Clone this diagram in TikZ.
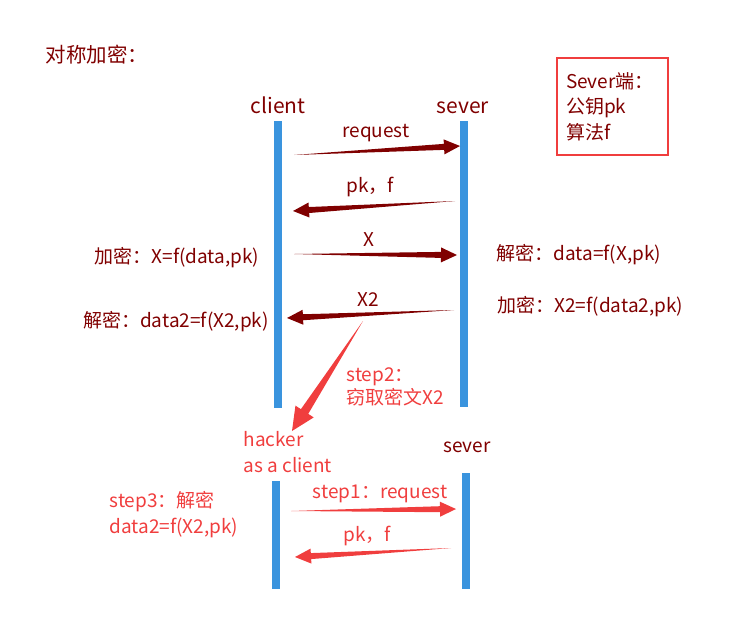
\documentclass[tikz,border=0pt]{standalone}
\usepackage{fontspec}
\setmainfont{Noto Sans CJK SC}
\usetikzlibrary{calc}

\definecolor{darkred}{RGB}{128,0,0}
\definecolor{brightred}{RGB}{240,62,62}
\definecolor{lineblue}{RGB}{58,148,222}

\tikzset{
  lifeline/.style={line width=7.5pt, lineblue},
  actor/.style={font=\fontsize{21}{24}\selectfont, text=darkred},
  msg/.style={font=\fontsize{19}{22}\selectfont, text=darkred},
  note/.style={font=\fontsize{19}{26}\selectfont, align=left, anchor=west},
}

% tapered arrow: [size]{colour}{tail}{tip}
\newcommand{\taper}[4][1]{%
  \coordinate (hb) at ($(#4)!#1*16pt!(#3)$);
  \fill[#2] (#3) -- ($(hb)!#1*3pt!90:(#4)$) -- ($(hb)!#1*7.5pt!90:(#4)$) -- (#4)
    -- ($(hb)!#1*7.5pt!-90:(#4)$) -- ($(hb)!#1*3pt!-90:(#4)$) -- cycle;}

\begin{document}
\begin{tikzpicture}[x=1pt,y=-1pt]
	\useasboundingbox (0,0) rectangle (751,619);
	\node[note, text=darkred, font=\fontsize{20.5}{24}\selectfont] (title) at (42,55) {对称加密：};
	\node[draw=brightred, line width=2pt, text=darkred, font=\fontsize{19}{25.5}\selectfont,
		minimum width=111pt, minimum height=97pt, text width=93pt, align=left] (keybox) at (612.5,106.5)
		{Sever端：\\公钥pk\\算法f};

	% upper part
	\node[actor] (client) at (278,105) {client};
	\node[actor] (sever) at (463,108) {sever};
	\coordinate (c-top) at (278,121); \coordinate (c-bot) at (278,408);
	\coordinate (s-top) at (464,121); \coordinate (s-bot) at (464,407);
	\draw[lifeline] (c-top) -- (c-bot);
	\draw[lifeline] (s-top) -- (s-bot);

	\coordinate (req-a) at (294,155); \coordinate (req-b) at (460,146);
	\coordinate (pk-a) at (455,201);  \coordinate (pk-b) at (293,211);
	\coordinate (x-a) at (294,254);   \coordinate (x-b) at (457,255);
	\coordinate (x2-a) at (454,310);  \coordinate (x2-b) at (287,318);
	\taper{darkred}{req-a}{req-b}
	\taper{darkred}{pk-a}{pk-b}
	\taper{darkred}{x-a}{x-b}
	\taper{darkred}{x2-a}{x2-b}
	\node[msg] (req) at (376,133) {request};
	\node[msg] (pk) at (370,187) {pk，f};
	\node[msg] (x) at (369,240) {X};
	\node[msg] (x2) at (368,300) {X2};

	\node[msg] (enc) at (177,258) {加密：X=f(data,pk)};
	\node[msg] (dec2) at (176,322) {解密：data2=f(X2,pk)};
	\node[msg, anchor=west] (dec) at (493,255) {解密：data=f(X,pk)};
	\node[msg, anchor=west] (enc2) at (494,307) {加密：X2=f(data2,pk)};

	% hacker steals X2
	\coordinate (steal-a) at (363,321); \coordinate (steal-b) at (292,431);
	\taper[1.45]{brightred}{steal-a}{steal-b}
	\node[note, text=brightred, font=\fontsize{19}{23}\selectfont] (step2) at (343,387) {step2：\\窃取密文X2};

	% lower part
	\node[note, text=brightred] (hacker) at (240,452) {hacker\\as a client};
	\node[msg] (sever2) at (467,447) {sever};
	\coordinate (h-top) at (276,481); \coordinate (h-bot) at (276,589);
	\coordinate (s2-top) at (466,473); \coordinate (s2-bot) at (466,589);
	\draw[lifeline] (h-top) -- (h-bot);
	\draw[lifeline] (s2-top) -- (s2-bot);

	\coordinate (r1-a) at (291,511); \coordinate (r1-b) at (456,509);
	\coordinate (r2-a) at (451,548); \coordinate (r2-b) at (295,557);
	\taper{brightred}{r1-a}{r1-b}
	\taper{brightred}{r2-a}{r2-b}
	\node[msg, text=brightred] (step1) at (380,494) {step1：request};
	\node[msg, text=brightred] (pk2) at (367,536) {pk，f};
	\node[note, text=brightred] (step3) at (106,515) {step3：解密\\data2=f(X2,pk)};
\end{tikzpicture}
\end{document}
